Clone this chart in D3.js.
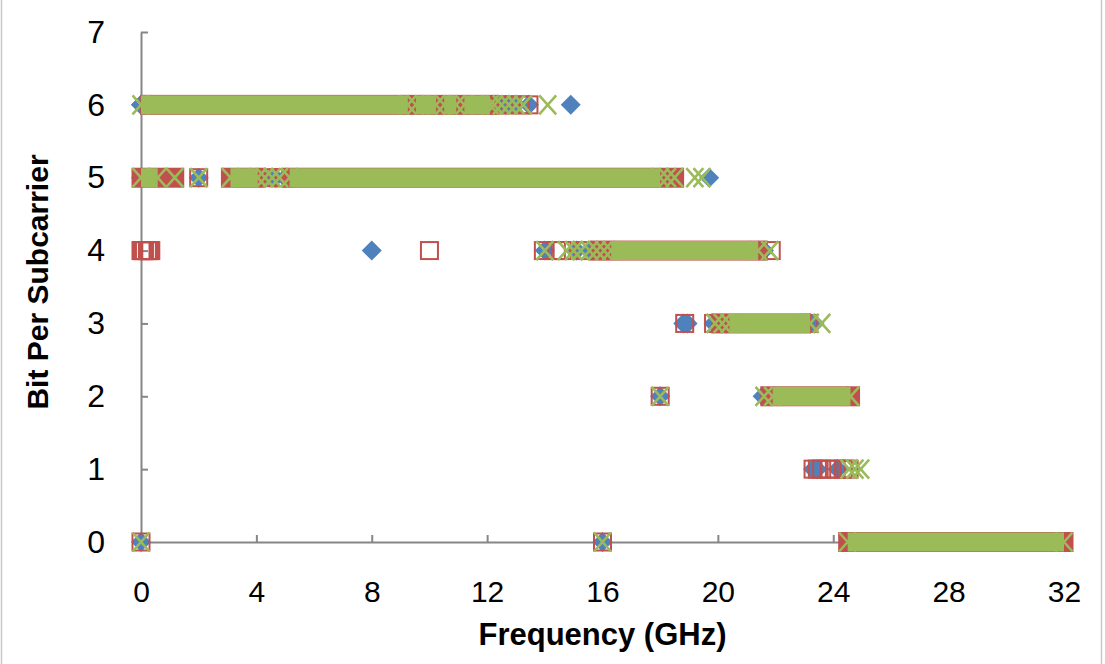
<!DOCTYPE html>
<html>
<head>
<meta charset="utf-8">
<script src="https://cdn.jsdelivr.net/npm/d3@7"></script>
<style>
  body { margin: 0; background: #fff; }
  svg { display: block; }
</style>
</head>
<body>
<svg id="chart" width="1105" height="664"></svg>
<script>
// bit rows, x ticks
const yTicks = [0, 1, 2, 3, 4, 5, 6, 7];
const xTicks = [0, 4, 8, 12, 16, 20, 24, 28, 32];

// dense runs of subcarriers: [bits, fromGHz, toGHz]
const blueRuns = [[6, 0, 9.0], [5, 5.2, 18.3], [4, 16.4, 21.4], [3, 20.3, 23.2], [2, 21.9, 24.5], [0, 24.6, 31.9]];
const redRuns = [[6, 0.3, 12.1], [5, 0, 1.17], [5, 3.1, 4.0], [5, 5.2, 18.5], [4, 15.9, 21.4], [3, 20.1, 22.9], [2, 21.8, 24.6], [0, 24.5, 32]];
const greenRuns = [
  [6, 0, 9.25], [6, 9.53, 10.23], [6, 10.51, 10.93], [6, 11.21, 12.1],
  [5, 0, 0.58], [5, 3.1, 4.05], [5, 5.15, 18.0],
  [4, 16.3, 21.4], [3, 20.4, 23.2], [2, 21.9, 24.6], [0, 24.5, 32]
];

// separate subcarriers: [bits, GHz]
const blueDots = [
  [6, 0], [6, 12.3], [6, 12.65], [6, 13.0], [6, 13.45], [6, 14.9],
  [5, 0], [5, 2.0], [5, 4.3], [5, 4.65], [5, 5.0], [5, 19.7],
  [4, 8.0], [4, 14.0], [4, 15.1], [4, 15.6], [4, 21.6],
  [3, 18.8], [3, 18.95], [3, 19.85], [3, 23.35],
  [2, 18.0], [2, 21.55],
  [1, 23.3], [1, 23.45], [1, 24.15],
  [0, 0], [0, 16.0]
];
const redDots = [
  [6, 12.4], [6, 12.8], [6, 13.15], [6, 13.45],
  [5, 2.0], [5, 4.4], [5, 4.75], [5, 4.95],
  [4, 0], [4, 0.04], [4, 0.08], [4, 0.12], [4, 0.22], [4, 0.26], [4, 0.3], [4, 0.34], [4, 10.0],
  [4, 13.95], [4, 14.4], [4, 14.6], [4, 15.35], [4, 15.95], [4, 21.85],
  [3, 18.85], [3, 19.85], [3, 23.15],
  [2, 18.0],
  [1, 23.3], [1, 23.45], [1, 23.6], [1, 23.85], [1, 24.1], [1, 24.35], [1, 24.55],
  [0, 0], [0, 16.0]
];
const greenDots = [
  [6, 12.25], [6, 12.5], [6, 12.75], [6, 13.0], [6, 13.25], [6, 14.1],
  [5, 1.17], [5, 2.0], [5, 4.3], [5, 4.55], [5, 4.8],
  [5, 18.25], [5, 18.5], [5, 19.2], [5, 19.45],
  [4, 14.0], [4, 14.75], [4, 15.0], [4, 15.25], [4, 15.55], [4, 15.8], [4, 16.05], [4, 21.8],
  [3, 19.9], [3, 20.15], [3, 23.6],
  [2, 18.0], [2, 21.6],
  [1, 24.55], [1, 24.75], [1, 24.95],
  [0, 0], [0, 16.0]
];

const blue = "#4F81BD", red = "#C0504D", green = "#9BBB59";

const svg = d3.select("#chart"),
  margin = { top: 32, right: 41, bottom: 122, left: 141 },
  width = +svg.attr("width") - margin.left - margin.right,
  height = +svg.attr("height") - margin.top - margin.bottom;

svg.append("rect")
  .attr("x", 1.5).attr("y", -2).attr("width", 1100).attr("height", 668)
  .attr("fill", "#fff").attr("stroke", "#c8c8c8").attr("stroke-width", 1.5);

const chart = svg.append("g").attr("transform", `translate(${margin.left},${margin.top})`);

const x = d3.scaleLinear().domain([0, 32]).range([0, width]);
const y = d3.scaleLinear().domain([0, 7]).range([height, 0]);

const tickFont = "'Liberation Sans', Arial, sans-serif";

const xAxis = chart.append("g")
  .attr("transform", `translate(0,${height})`)
  .call(d3.axisBottom(x).tickValues(xTicks).tickFormat(d3.format("d")).tickSizeInner(-7).tickSizeOuter(0).tickPadding(39));
const yAxis = chart.append("g")
  .call(d3.axisLeft(y).tickValues(yTicks).tickFormat(d3.format("d")).tickSizeInner(-7).tickSizeOuter(0).tickPadding(36));

[xAxis, yAxis].forEach(a => {
  a.select(".domain").attr("stroke", "#868686").attr("stroke-width", 2);
  a.selectAll(".tick line").attr("stroke", "#868686").attr("stroke-width", 2);
  a.selectAll(".tick text")
    .attr("fill", "#000")
    .style("font-family", tickFont)
    .style("font-size", "30px");
});
yAxis.selectAll(".tick text").style("font-size", "32px");

const dH = 10, bandB = 8.5, sH = 8.5, xW = 8.5, xH = 9.5;

const markerLayer = (g, pts, kind) => {
  if (kind === "blue") {
    g.selectAll("path.m")
      .data(pts)
      .enter().append("path")
      .attr("class", "m")
      .attr("d", d => {
        const cx = x(d[1]), cy = y(d[0]);
        return `M${cx},${cy - dH}L${cx + dH},${cy}L${cx},${cy + dH}L${cx - dH},${cy}Z`;
      })
      .attr("fill", blue);
  } else if (kind === "red") {
    g.selectAll("rect.m")
      .data(pts)
      .enter().append("rect")
      .attr("class", "m")
      .attr("x", d => x(d[1]) - sH)
      .attr("y", d => y(d[0]) - sH)
      .attr("width", 2 * sH)
      .attr("height", 2 * sH)
      .attr("fill", "none")
      .attr("stroke", red)
      .attr("stroke-width", 2);
  } else {
    g.selectAll("path.m")
      .data(pts)
      .enter().append("path")
      .attr("class", "m")
      .attr("d", d => {
        const cx = x(d[1]), cy = y(d[0]);
        return `M${cx - xW},${cy - xH}L${cx + xW},${cy + xH}M${cx + xW},${cy - xH}L${cx - xW},${cy + xH}`;
      })
      .attr("fill", "none")
      .attr("stroke", green)
      .attr("stroke-width", 2.6);
  }
};

// one series: dense runs as bands, then its single markers
const seriesLayer = (runs, dots, color, kind) => {
  const g = chart.append("g");
  const half = kind === "red" ? sH + 1.5 : kind === "blue" ? bandB : xH;
  const pad = kind === "red" ? sH + 1 : 0;
  g.selectAll("rect.band")
    .data(runs)
    .enter().append("rect")
    .attr("class", "band")
    .attr("x", d => x(d[1]) - pad)
    .attr("width", d => x(d[2]) - x(d[1]) + 2 * pad)
    .attr("y", d => y(d[0]) - half)
    .attr("height", 2 * half)
    .attr("fill", color);
  const ends = kind === "red" ? [] : runs.flatMap(d => [[d[0], d[1]], [d[0], d[2]]]);
  markerLayer(g.append("g"), ends.concat(dots), kind);
};

seriesLayer(blueRuns, blueDots, blue, "blue");
seriesLayer(redRuns, redDots, red, "red");
seriesLayer(greenRuns, greenDots, green, "green");

svg.append("text")
  .attr("x", margin.left + x(16))
  .attr("y", 645)
  .attr("text-anchor", "middle")
  .style("font-family", tickFont)
  .style("font-size", "31px")
  .style("font-weight", "bold")
  .text("Frequency (GHz)");

svg.append("text")
  .attr("transform", "translate(48,282) rotate(-90)")
  .attr("text-anchor", "middle")
  .style("font-family", tickFont)
  .style("font-size", "30px")
  .style("font-weight", "bold")
  .text("Bit Per Subcarrier");
</script>
</body>
</html>
